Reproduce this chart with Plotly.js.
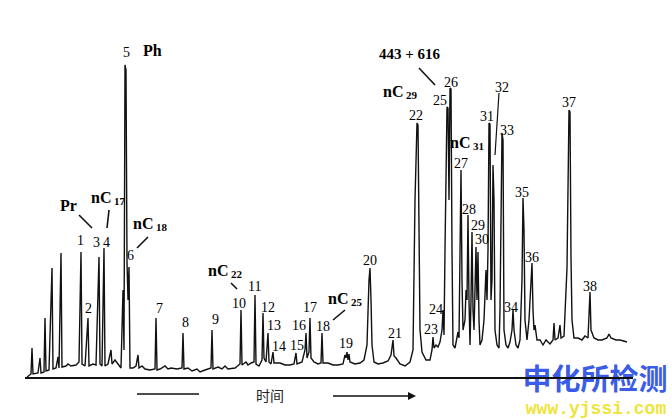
<!DOCTYPE html>
<html>
<head>
<meta charset="utf-8">
<script src="https://cdn.plot.ly/plotly-3.0.1.min.js"></script>
<style>html,body{margin:0;padding:0;background:#fff;}#chart{width:672px;height:420px;}</style>
</head>
<body>
<div id="chart"></div>
<script>
// Retention time (arbitrary units) and detector signal
const time = [27,31,32,33,38,40,41,44,45,46,49,52,53,56,58,59,61,62,66,68,71,76,79,81,82,85,88,89,93,96,99,100,102,104,105,108,111,112,115,118,121,123,124,125,126,127,128,129,130,133,136,138,139,142,145,150,155,156,157,160,165,168,171,177,182,183,184,188,192,197,200,205,211,212,213,218,222,225,228,235,240,241,242,246,248,251,254,255,256,259,262,263,264,266,268,269,271,273,274,280,285,290,294,296,297,302,305,306,307,309,310,311,314,318,321,322,323,328,333,338,343,345,346,347,348,349,350,355,360,364,367,369,370,371,372,374,378,383,388,391,393,394,396,400,405,410,413,415,417,418,419,420,422,426,430,432,433,434,436,438,440,442,443,444,445,446,447,448,449,450,451,452,453,455,457,458,459,460,461,462,463,465,466,467,468,469,470,471,472,473,474,475,476,477,478,479,480,482,484,486,487,488,489,490,491,492,493,494,495,497,499,500,501,502,503,504,506,508,510,512,513,514,516,518,520,522,523,524,525,527,529,531,532,533,534,535,537,540,543,546,550,553,554,555,558,560,561,564,567,569,570,571,572,574,578,582,585,588,589,590,591,594,598,602,607,609,611,616,620,627];
const signal = [1,4,30,4,5,20,5,6,60,7,8,110,9,10,21,10,125,11,12,14,12,13,16,126,14,12,60,12,14,13,121,14,12,130,12,14,28,14,18,14,10,88,28,313,308,116,78,111,10,10,12,23,10,12,9,8,9,60,8,9,12,9,10,9,10,45,9,10,7,9,6,8,10,48,9,11,9,12,9,10,14,68,13,16,13,15,16,83,14,12,18,65,20,16,45,16,14,26,15,15,13,13,14,25,14,16,28,45,20,26,60,20,16,14,15,45,15,15,13,13,14,23,20,26,18,24,16,14,15,18,33,98,110,78,33,16,14,15,17,23,38,22,20,14,12,16,28,178,255,253,128,48,26,18,18,28,41,30,33,31,36,48,68,43,128,218,271,270,178,290,289,128,33,30,40,46,40,128,208,98,48,58,88,78,163,78,33,78,146,68,48,88,131,78,126,58,33,38,58,108,78,128,255,254,78,98,213,178,48,33,30,68,178,245,238,48,33,30,36,48,68,48,33,30,38,98,180,148,58,38,58,98,115,68,48,53,38,38,33,38,34,38,55,38,40,53,40,42,110,268,266,120,58,40,40,38,42,40,58,86,48,40,38,38,40,44,40,38,38,36];

// Peak labels
const peakLabels = ['1','2','3','4','6','7','8','9','10','11','12','13','14','15','16','17','18','19','20','21','22','23','24','25','26','27','28','29','30','31','32','33','34','35','36','37','38'];
const peakLabelX = [80,88,96,106,130,159,185,215,239,254,268,274,279,297,299,310,323,346,370,395,416,431,436,440,451,461,469,478,482,487,502,507,511,522,532,569,590];
const peakLabelY = [138,70,136,136,123,70,56,59,75,92,71,53,32,33,53,71,52,35,118,45,263,49,69,278,296,215,169,153,139,262,291,248,71,186,121,276,92];

// Compound names (plain)
const names = ['5','Ph','Pr','443 + 616'];
const nameX = [126,152,68,410];
const nameY = [326,328,173,324];

// n-alkane labels: nC + carbon number
const alkaneCarbons = ['17','18','22','25','29','31'];
const alkaneX = [108,150,225,345,400,467];
const alkaneY = [181,155,108,80,287,236];

const FONT = 'Liberation Serif, DejaVu Serif, serif';

const annotations = [];
peakLabels.forEach((t, i) => annotations.push({
  x: peakLabelX[i], y: peakLabelY[i], xref: 'x', yref: 'y', text: t, showarrow: false,
  font: {family: FONT, size: 14, color: '#000'}
}));
names.forEach((t, i) => annotations.push({
  x: nameX[i], y: nameY[i], xref: 'x', yref: 'y', text: t, showarrow: false,
  font: {family: FONT, size: i === 0 ? 14 : (i === 3 ? 15 : 16), color: '#000', weight: i === 0 ? 'normal' : 'bold'}
}));
alkaneCarbons.forEach((c, i) => {
  annotations.push({x: alkaneX[i] + 5, y: alkaneY[i], xref: 'x', yref: 'y', text: 'nC',
    xanchor: 'right', showarrow: false, font: {family: FONT, size: 16, color: '#000', weight: 'bold'}});
  annotations.push({x: alkaneX[i] + 4, y: alkaneY[i] - 4, xref: 'x', yref: 'y', text: c,
    xanchor: 'left', showarrow: false, font: {family: FONT, size: 11, color: '#000', weight: 'bold'}});
});
annotations.push({x: 270, y: -17, xref: 'x', yref: 'y', text: '时间', showarrow: false,
  font: {family: 'Noto Sans CJK SC', size: 14, color: '#222'}});
annotations.push({x: 416, y: -18, ax: 330, ay: -18, xref: 'x', yref: 'y', axref: 'x', ayref: 'y',
  text: ' ', showarrow: true, arrowhead: 2, arrowsize: 1, arrowwidth: 1.6, arrowcolor: '#111',
  font: {size: 10}});

function seg(x0, y0, x1, y1, w) {
  return {type: 'line', xref: 'x', yref: 'y', x0: x0, y0: y0, x1: x1, y1: y1,
    line: {color: '#111', width: w || 1.6}, layer: 'above'};
}
const shapes = [
  seg(25, 0, 633, 0, 2),
  seg(79, 163, 92, 150), seg(109, 168, 107, 150), seg(148, 141, 137, 130),
  seg(231, 95, 237, 89), seg(345, 68, 333, 58), seg(419, 310, 435, 293),
  seg(499, 285, 495, 223, 1.2),
  seg(137, -16, 199, -16, 1.6)
];

const data = [
  {x: [595], y: [-5], mode: 'text', text: ['申化所检测'], hoverinfo: 'skip',
   textfont: {family: 'Noto Sans CJK SC', size: 29, color: '#3a5ce6', weight: 'bold'}},
  {x: [596], y: [-31], mode: 'text', text: ['www.yjssi.com'], hoverinfo: 'skip',
   textfont: {family: 'Liberation Mono, monospace', size: 18, color: '#f0e43a', weight: 'bold'}},
  {x: time, y: signal, mode: 'lines', line: {color: '#111', width: 1.4}, hoverinfo: 'skip'}
];

const layout = {
  width: 672, height: 420, margin: {l: 0, r: 0, t: 0, b: 0},
  paper_bgcolor: '#fff', plot_bgcolor: '#fff', showlegend: false,
  xaxis: {range: [0, 672], showgrid: false, zeroline: false, showticklabels: false, showline: false, fixedrange: true},
  yaxis: {range: [-42, 378], showgrid: false, zeroline: false, showticklabels: false, showline: false, fixedrange: true},
  annotations: annotations, shapes: shapes
};
Plotly.newPlot('chart', data, layout, {displayModeBar: false, staticPlot: true});
</script>
</body>
</html>
